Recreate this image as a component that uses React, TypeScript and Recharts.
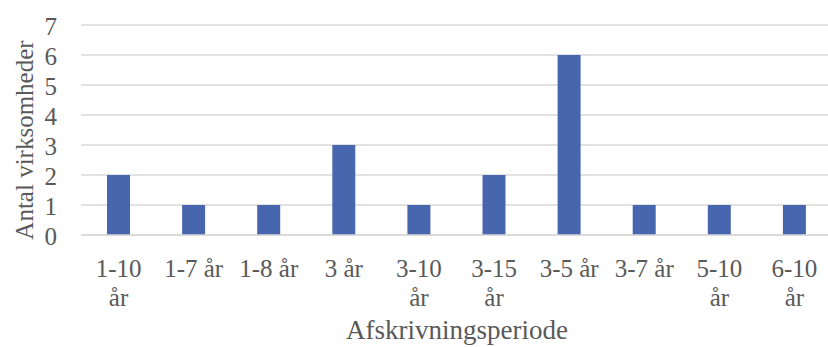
import { BarChart, Bar, XAxis, YAxis, CartesianGrid } from "recharts";

// afskrivningsperioder og antal virksomheder
const categories = [
  "1-10 år",
  "1-7 år",
  "1-8 år",
  "3 år",
  "3-10 år",
  "3-15 år",
  "3-5 år",
  "3-7 år",
  "5-10 år",
  "6-10 år",
];
const counts = [2, 1, 1, 3, 1, 2, 6, 1, 1, 1];
const yTicks = [0, 1, 2, 3, 4, 5, 6, 7];

const data = categories.map((name, i) => ({ name, value: counts[i] }));

const FONT = "'Liberation Serif', 'Times New Roman', serif";
const TEXT = "#595959";

// long labels wrap onto two lines like in Excel
const XTick = (props: any) => {
  const { x, y, payload } = props;
  const label: string = payload.value;
  const lines = label.length > 6 ? label.split(" ") : [label];
  return (
    <g>
      {lines.map((line, i) => (
        <text
          key={i}
          x={x}
          y={y + 40 + i * 29}
          textAnchor="middle"
          fill={TEXT}
          fontSize={25}
          fontFamily={FONT}
        >
          {line}
        </text>
      ))}
    </g>
  );
};

const App = () => {
  return (
    <div style={{ position: "absolute", left: 0, top: 0, width: 828, height: 347, overflow: "hidden", background: "#fff" }}>
      <BarChart
        width={832}
        height={347}
        data={data}
        margin={{ top: 25, right: 0, left: 0, bottom: 0 }}
      >
        <CartesianGrid vertical={false} stroke="#d9d9d9" strokeWidth={1.5} />
        <XAxis
          dataKey="name"
          interval={0}
          height={112}
          tickSize={0}
          tickLine={false}
          axisLine={{ stroke: "#d9d9d9", strokeWidth: 1.5 }}
          tick={<XTick />}
          label={{
            content: () => (
              <text x={457} y={339} textAnchor="middle" fill={TEXT} fontSize={27} fontFamily={FONT}>
                Afskrivningsperiode
              </text>
            ),
          }}
        />
        <YAxis
          width={81}
          domain={[0, 7]}
          ticks={yTicks}
          interval={0}
          tickSize={0}
          tickMargin={24}
          tickLine={false}
          axisLine={false}
          tick={{ fill: TEXT, fontSize: 25, fontFamily: FONT, dy: 1 }}
          label={{
            content: () => (
              <text
                x={24}
                y={140}
                transform="rotate(-90 24 140)"
                textAnchor="middle"
                dominantBaseline="central"
                fill={TEXT}
                fontSize={25}
                fontFamily={FONT}
              >
                Antal virksomheder
              </text>
            ),
          }}
        />
        <Bar dataKey="value" fill="#4866ae" barSize={23} isAnimationActive={false} />
      </BarChart>
    </div>
  );
};

export default App;
